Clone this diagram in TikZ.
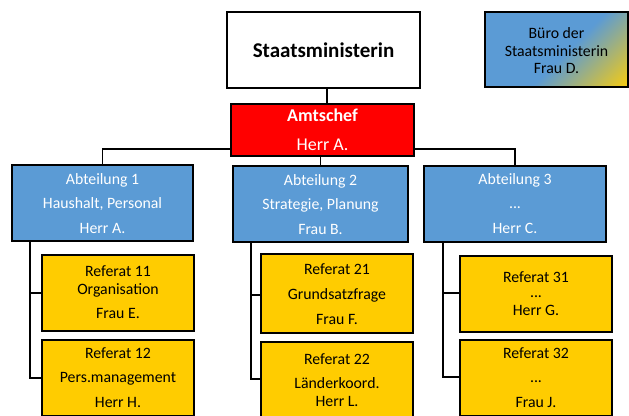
\documentclass[tikz,border=0pt]{standalone}
\usepackage{fontspec}
\setmainfont{Carlito}
\definecolor{abtblue}{RGB}{91,155,213}
\definecolor{refgold}{RGB}{255,204,0}
\definecolor{bgold}{RGB}{236,200,30}
\definecolor{amtred}{RGB}{255,0,0}
\pgfdeclarehorizontalshading{buerosh}{100bp}{color(0bp)=(abtblue); color(53bp)=(abtblue); color(75bp)=(bgold); color(100bp)=(bgold)}
\tikzset{
  box/.style={draw=black, line width=1.8pt, rectangle, inner sep=0pt},
  abtbox/.style={box, fill=abtblue},
  refbox/.style={box, fill=refgold},
  conn/.style={draw=black, line width=1.8pt},
  txt/.style={inner sep=0pt, anchor=base, font=\fontsize{15.8}{19}\selectfont},
  wtxt/.style={txt, text=white},
}
\begin{document}
\begin{tikzpicture}[x=1pt,y=-1pt]
\useasboundingbox (0,0) rectangle (629,415);
\clip (0,0) rectangle (629,415);
\fill[white] (0,0) rectangle (629,415);
% boxes
\node[box, fill=white, minimum width=193pt, minimum height=76pt] (sm) at (323.5,50) {};
\node[rectangle, inner sep=0pt, minimum width=143pt, minimum height=75pt] (buero) at (556.5,49.5) {};
\begin{scope}
  \clip (buero.south west) rectangle (buero.north east);
  \shade[shading=buerosh, shading angle=-45] ([shift={(-71.5,-71.5)}]buero.center) rectangle ([shift={(71.5,71.5)}]buero.center);
\end{scope}
\draw[line width=1.8pt] (buero.south west) rectangle (buero.north east);
\node[abtbox, minimum width=181pt, minimum height=76pt] (a1) at (102.5,203) {};
\node[abtbox, minimum width=175pt, minimum height=76pt] (a2) at (320.5,204) {};
\node[abtbox, minimum width=182pt, minimum height=76pt] (a3) at (515,204) {};
\node[refbox, minimum width=152pt, minimum height=76pt] (r11) at (118,293) {};
\node[refbox, minimum width=152pt, minimum height=76pt] (r12) at (118,378) {};
\node[refbox, minimum width=152pt, minimum height=79pt] (r21) at (337,293.5) {};
\node[refbox, minimum width=152pt, minimum height=78pt] (r22) at (337,381) {};
\node[refbox, minimum width=152pt, minimum height=76pt] (r31) at (536,294) {};
\node[refbox, minimum width=152pt, minimum height=76pt] (r32) at (536,378) {};
\coordinate (busy) at (0,149);
% connectors
\draw[conn] (a1.north) -- (a1.north |- busy) -- (busy -| 231,0) coordinate (bl);
\draw[conn] (busy -| 414,0) coordinate (br) -- (a3.north |- busy) -- (a3.north);
\draw[conn] (a2.north |- 0,156) coordinate (amtb) -- (a2.north);
\draw[conn] ([xshift=3.5pt]sm.south) -- ([xshift=3.5pt]sm.south |- 0,104) coordinate (amtt);
\draw[conn] (a1.south -| 30,0) coordinate (s1) |- (r12.west);
\draw[conn] (s1 |- r11.west) -- (r11.west);
\draw[conn] (a2.south -| 251,0) coordinate (s2) -- (s2 |- 0,379) -- (r22.west |- 0,379);
\draw[conn] (s2 |- 0,295) -- (r21.west |- 0,295);
\draw[conn] (a3.south -| 443,0) coordinate (s3) -- (s3 |- 0,377) -- (r32.west |- 0,377);
\draw[conn] (s3 |- 0,293) -- (r31.west |- 0,293);
\node[box, fill=amtred, minimum width=183pt, minimum height=52pt] (amt) at (322.5,130) {};
% texts
\node[txt, font=\fontsize{21}{25}\selectfont\bfseries] (smt) at (323.5,57) {Staatsministerin};
\node[wtxt, font=\fontsize{18}{22}\selectfont\bfseries] (amt1) at (322.5,121) {Amtschef};
\node[wtxt, font=\fontsize{18}{22}\selectfont] (amt2) at (322.5,150) {Herr A.};
\node[txt] (b1) at (556.5,38) {Büro der};
\node[txt] (b2) at (556.5,56) {Staatsministerin};
\node[txt] (b3) at (556.5,73) {Frau D.};
\node[wtxt] (a1a) at (102.5,184) {Abteilung 1};
\node[wtxt] (a1b) at (102.5,208) {Haushalt, Personal};
\node[wtxt] (a1c) at (102.5,233) {Herr A.};
\node[wtxt] (a2a) at (320.5,185) {Abteilung 2};
\node[wtxt] (a2b) at (320.5,209) {Strategie, Planung};
\node[wtxt] (a2c) at (320.5,234) {Frau B.};
\node[wtxt] (a3a) at (515,184) {Abteilung 3};
\node[wtxt] (a3b) at (515,208) {...};
\node[wtxt] (a3c) at (515,233) {Herr C.};
\node[txt] (r11a) at (118,276) {Referat 11};
\node[txt] (r11b) at (118,294) {Organisation};
\node[txt] (r11c) at (118,318) {Frau E.};
\node[txt] (r12a) at (118,358) {Referat 12};
\node[txt] (r12b) at (118,382) {Pers.management};
\node[txt] (r12c) at (118,407) {Herr H.};
\node[txt] (r21a) at (337,274) {Referat 21};
\node[txt] (r21b) at (337,299) {Grundsatzfrage};
\node[txt] (r21c) at (337,324) {Frau F.};
\node[txt] (r22a) at (337,364) {Referat 22};
\node[txt] (r22b) at (337,388) {Länderkoord.};
\node[txt] (r22c) at (337,406) {Herr L.};
\node[txt] (r31a) at (536,282) {Referat 31};
\node[txt] (r31b) at (536,297) {...};
\node[txt] (r31c) at (536,315) {Herr G.};
\node[txt] (r32a) at (536,358) {Referat 32};
\node[txt] (r32b) at (536,382) {...};
\node[txt] (r32c) at (536,407) {Frau J.};
\end{tikzpicture}
\end{document}
